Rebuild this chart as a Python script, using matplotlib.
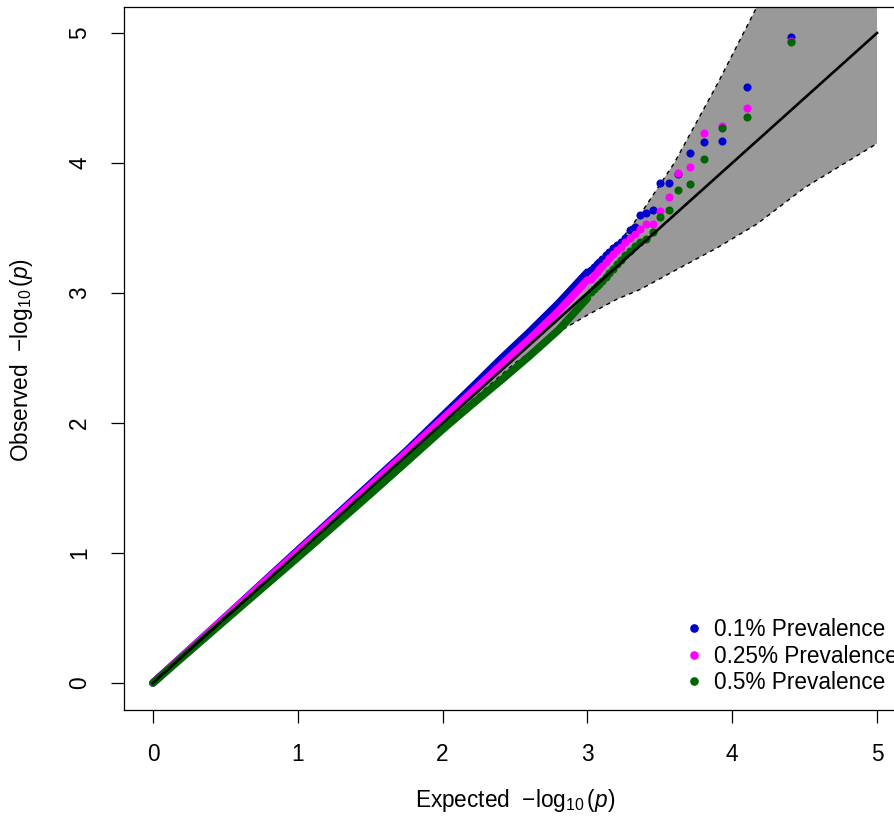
import matplotlib
matplotlib.use("Agg")
import matplotlib.pyplot as plt
from matplotlib.lines import Line2D

plt.rcParams['font.family'] = ['Liberation Sans', 'DejaVu Sans']
plt.rcParams['mathtext.fontset'] = 'custom'
plt.rcParams['mathtext.rm'] = 'Liberation Sans'
plt.rcParams['mathtext.it'] = 'Liberation Sans:italic'

# dense part of the QQ curves (expected vs observed -log10 p)
body_expected = [0, 0.25, 0.5, 0.75, 1.0, 1.25, 1.5, 1.75, 2.0, 2.2, 2.4, 2.6, 2.8, 3.0]
blue_body = [0, 0.254, 0.508, 0.764, 1.02, 1.275, 1.53, 1.785, 2.055, 2.27, 2.49, 2.70, 2.92, 3.16]
magenta_body = [0, 0.253, 0.506, 0.758, 1.01, 1.263, 1.516, 1.772, 2.03, 2.235, 2.44, 2.645, 2.86, 3.10]
green_body = [0, 0.242, 0.484, 0.725, 0.965, 1.208, 1.452, 1.70, 1.95, 2.14, 2.325, 2.515, 2.715, 2.96]

# top hits, one point each
tail_expected = [4.405, 4.104, 3.928, 3.803, 3.706, 3.627, 3.560, 3.502, 3.451, 3.405, 3.364, 3.326,
                 3.291, 3.259, 3.229, 3.201, 3.175, 3.150, 3.126, 3.104, 3.083, 3.063, 3.044, 3.025]
blue_tail = [4.972, 4.582, 4.169, 4.164, 4.079, 3.918, 3.846, 3.846, 3.638, 3.613, 3.600, 3.510,
             3.485, 3.420, 3.395, 3.370, 3.344, 3.318, 3.292, 3.265, 3.241, 3.222, 3.202, 3.180]
magenta_tail = [4.940, 4.426, 4.286, 4.233, 3.969, 3.925, 3.738, 3.633, 3.531, 3.528, 3.490, 3.450,
                3.420, 3.390, 3.356, 3.330, 3.300, 3.270, 3.240, 3.210, 3.185, 3.160, 3.135, 3.110]
green_tail = [4.928, 4.356, 4.266, 4.028, 3.836, 3.792, 3.636, 3.587, 3.467, 3.413, 3.390, 3.360,
              3.320, 3.290, 3.250, 3.220, 3.185, 3.150, 3.120, 3.090, 3.070, 3.050, 3.030, 3.010]

# 95% band around the null
band_x = [0, 1, 2, 2.5, 2.77, 3.0, 3.2, 3.37, 3.6, 3.9, 4.17, 4.5, 5.0]
band_upper = [0, 1.005, 2.02, 2.56, 2.844, 3.10, 3.36, 3.613, 4.0, 4.613, 5.2, 5.95, 7.1]
band_lower = [0, 0.995, 1.98, 2.46, 2.68, 2.83, 2.95, 3.03, 3.17, 3.35, 3.53, 3.81, 4.15]

ref_line = [0, 5]
labels = ['0.1% Prevalence', '0.25% Prevalence', '0.5% Prevalence']
colors = ['#0000CD', '#FF00FF', '#006400']

fig = plt.figure(figsize=(8.94, 8.16), dpi=100)
ax = fig.add_axes([124 / 894, 106 / 816, 782 / 894, 703 / 816])

ax.fill_between(band_x, band_lower, band_upper, color='#999999', lw=0, zorder=1)
ax.plot(band_x, band_upper, color='black', ls=(0, (3, 3)), lw=1.0, zorder=2)
ax.plot(band_x, band_lower, color='black', ls=(0, (3, 3)), lw=1.0, zorder=2)

bodies = [blue_body, magenta_body, green_body]
tails = [blue_tail, magenta_tail, green_tail]
for k in range(3):
    ax.plot(body_expected, bodies[k], color=colors[k], lw=5.5,
            solid_capstyle='round', solid_joinstyle='round', zorder=3 + k)
    ax.scatter(tail_expected, tails[k], s=34, color=colors[k], lw=0, zorder=3 + k)

ax.plot(ref_line, ref_line, color='black', lw=1.9, zorder=10)

ax.set_xlim(-0.2, 5.2)
ax.set_ylim(-0.208, 5.2)
ax.set_xticks(range(6))
ax.set_yticks(range(6))
ax.spines['right'].set_visible(False)
for s in ['left', 'bottom', 'top']:
    ax.spines[s].set_linewidth(0.9)
ax.tick_params(direction='out', length=9.5, width=0.9, labelsize=16.3, pad=14)
plt.setp(ax.get_yticklabels(), rotation=90, va='center')

fig.text(515 / 894, 1 - 800 / 816, r'Expected  $-\log_{10}(p)$', fontsize=16.3,
         ha='center', va='center')
fig.text(22 / 894, 1 - 360 / 816, r'Observed  $-\log_{10}(p)$', fontsize=16.3,
         ha='center', va='center', rotation=90)

handles = [Line2D([], [], marker='o', ls='none', color=c, markersize=5.2) for c in colors]
ax.legend(handles, labels, loc='upper left', bbox_to_anchor=(0.7143, 0.131),
          frameon=False, fontsize=16.3, borderpad=0, handlelength=1.0,
          handletextpad=0.4, labelspacing=0.16, borderaxespad=0)

fig.savefig('out.png', dpi=100)
